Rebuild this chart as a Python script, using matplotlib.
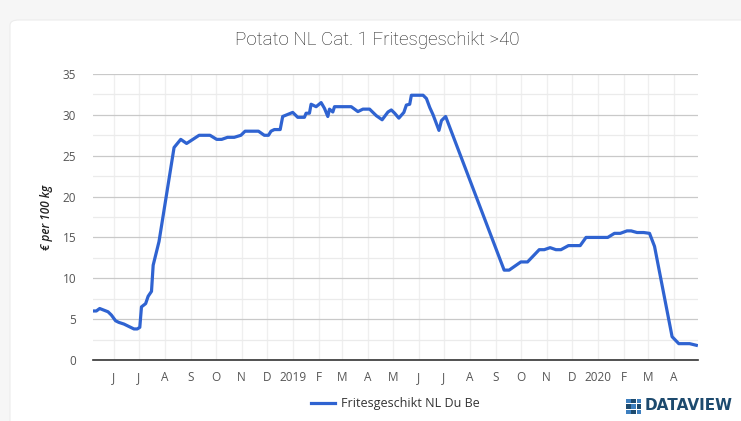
import numpy as np
import pandas as pd
import matplotlib
matplotlib.use("Agg")
import matplotlib.pyplot as plt
from matplotlib.patches import FancyBboxPatch, Rectangle
from matplotlib.lines import Line2D

# price data (euro per 100 kg)
dates = [
    "2018-05-08", "2018-05-11", "2018-05-15", "2018-05-20", "2018-05-25", "2018-05-29",
    "2018-06-03", "2018-06-07", "2018-06-13", "2018-06-19", "2018-06-25", "2018-06-29",
    "2018-07-02", "2018-07-04", "2018-07-09", "2018-07-12", "2018-07-16", "2018-07-18",
    "2018-07-25", "2018-08-12", "2018-08-20", "2018-08-27", "2018-09-11", "2018-09-24",
    "2018-10-02", "2018-10-08", "2018-10-15", "2018-10-23", "2018-10-31", "2018-11-05",
    "2018-11-21", "2018-11-28", "2018-12-03", "2018-12-06", "2018-12-10", "2018-12-17",
    "2018-12-20", "2019-01-01", "2019-01-07", "2019-01-15", "2019-01-17", "2019-01-21",
    "2019-01-23", "2019-01-29", "2019-02-04", "2019-02-08", "2019-02-12", "2019-02-14",
    "2019-02-18", "2019-02-20", "2019-03-12", "2019-03-20", "2019-03-26", "2019-04-03",
    "2019-04-11", "2019-04-18", "2019-04-25", "2019-04-29", "2019-05-03", "2019-05-08",
    "2019-05-14", "2019-05-17", "2019-05-21", "2019-05-23", "2019-06-06", "2019-06-10",
    "2019-06-14", "2019-06-18", "2019-06-25", "2019-06-28", "2019-07-03", "2019-09-11",
    "2019-09-17", "2019-10-01", "2019-10-09", "2019-10-23", "2019-10-29", "2019-11-05",
    "2019-11-12", "2019-11-18", "2019-11-27", "2019-12-11", "2019-12-18", "2020-01-13",
    "2020-01-21", "2020-01-28", "2020-02-05", "2020-02-10", "2020-02-17", "2020-02-25",
    "2020-03-03", "2020-03-09", "2020-03-30", "2020-04-07", "2020-04-20", "2020-04-28",
]
prices = [
    6.0, 6.0, 6.3, 6.1, 5.9, 5.5,
    4.8, 4.6, 4.4, 4.1, 3.8, 3.8,
    4.0, 6.5, 6.9, 7.8, 8.4, 11.6,
    14.5, 26.0, 27.0, 26.5, 27.5, 27.5,
    27.0, 27.0, 27.25, 27.25, 27.5, 28.0,
    28.0, 27.5, 27.5, 28.0, 28.2, 28.2,
    29.8, 30.3, 29.7, 29.7, 30.2, 30.2,
    31.3, 31.0, 31.5, 30.8, 29.8, 30.7,
    30.35, 31.0, 31.0, 30.4, 30.7, 30.7,
    29.9, 29.4, 30.35, 30.6, 30.2, 29.6,
    30.3, 31.2, 31.3, 32.4, 32.4, 32.0,
    30.9, 30.0, 28.1, 29.3, 29.8, 11.0,
    11.0, 12.0, 12.0, 13.5, 13.5, 13.75,
    13.5, 13.5, 14.0, 14.0, 15.0, 15.0,
    15.5, 15.5, 15.8, 15.8, 15.6, 15.6,
    15.5, 13.9, 2.85, 2.0, 2.0, 1.8,
]
series_name = "Fritesgeschikt NL Du Be"
title = "Potato NL Cat. 1 Fritesgeschikt >40"
y_label = "€ per 100 kg"
y_ticks = [0, 5, 10, 15, 20, 25, 30, 35]

x = pd.to_datetime(dates)

W, H = 741, 421
fig = plt.figure(figsize=(W / 100, H / 100), dpi=100)
fig.patch.set_facecolor("#f6f6f6")

# white card behind the chart
card = FancyBboxPatch((10 / W, -0.05), 1.0, (H - 20) / H + 0.05,
                      boxstyle="round,pad=0,rounding_size=0.012",
                      transform=fig.transFigure, facecolor="white",
                      edgecolor="#ececec", linewidth=0.8, zorder=-5)
fig.patches.append(card)

ax = fig.add_axes([93 / W, 1 - 360 / H, (698 - 93) / W, (360 - 74) / H])
ax.set_facecolor("none")

ax.plot(x, prices, color="#2f63d1", linewidth=2.3, solid_joinstyle="round", zorder=3)

ax.set_xlim(pd.Timestamp("2018-05-07"), pd.Timestamp("2020-04-30"))
ax.set_ylim(0, 35)

# grid
ax.set_yticks(y_ticks)
ax.set_yticks(np.arange(2.5, 35, 5), minor=True)
ax.grid(axis="y", which="major", color="#c9c9c9", linewidth=0.9)
ax.grid(axis="y", which="minor", color="#ebebeb", linewidth=0.9)

months = pd.date_range("2018-06-01", "2020-04-01", freq="MS")
month_labels = []
for m in months:
    if m.month == 1:
        month_labels.append(str(m.year))
    else:
        month_labels.append(m.strftime("%b")[0])
ax.set_xticks(months)
ax.set_xticklabels(month_labels)
ax.grid(axis="x", which="major", color="#efefef", linewidth=0.9)
ax.set_axisbelow(True)

for s in ["top", "right", "left"]:
    ax.spines[s].set_visible(False)
ax.spines["bottom"].set_color("#333333")
ax.spines["bottom"].set_linewidth(1.2)
ax.spines["bottom"].set_zorder(4)

ax.tick_params(axis="both", which="both", length=0, labelsize=8.5, labelcolor="#555555")
ax.tick_params(axis="y", pad=12)
ax.tick_params(axis="x", pad=8)
for lbl in ax.get_xticklabels() + ax.get_yticklabels():
    lbl.set_family("Open Sans")

ax.set_ylabel(y_label, fontsize=8.5, style="italic", fontweight="semibold",
              color="#222222", family="Open Sans", labelpad=7)

fig.text(377 / W, 1 - 40 / H, title, ha="center", va="center", fontsize=13.5,
         color="#1e1e1e", family=["Roboto", "Open Sans"], fontweight="light")

# legend
fig.add_artist(Line2D([311 / W, 335 / W], [1 - 403 / H, 1 - 403 / H],
                      transform=fig.transFigure, color="#2f63d1", linewidth=2.3))
fig.text(341 / W, 1 - 403 / H, series_name, ha="left", va="center",
         fontsize=9, color="#333333", family="Open Sans")

# DATAVIEW logo
navy = "#1d4a6e"
sq = 4.6
for i in range(3):
    for j in range(3):
        c = "#3d7fbf" if (i + j) % 2 == 0 else navy
        fig.patches.append(Rectangle(((626 + j * (sq + 0.8)) / W, 1 - (398 + (i + 1) * (sq + 0.8)) / H),
                                     sq / W, sq / H, transform=fig.transFigure,
                                     facecolor=c, edgecolor="none"))
fig.text(645 / W, 1 - 405 / H, "DATAVIEW", ha="left", va="center", fontsize=11,
         fontweight="heavy", color=navy, family="DejaVu Sans")

fig.savefig("out.png", dpi=100, facecolor=fig.get_facecolor())
